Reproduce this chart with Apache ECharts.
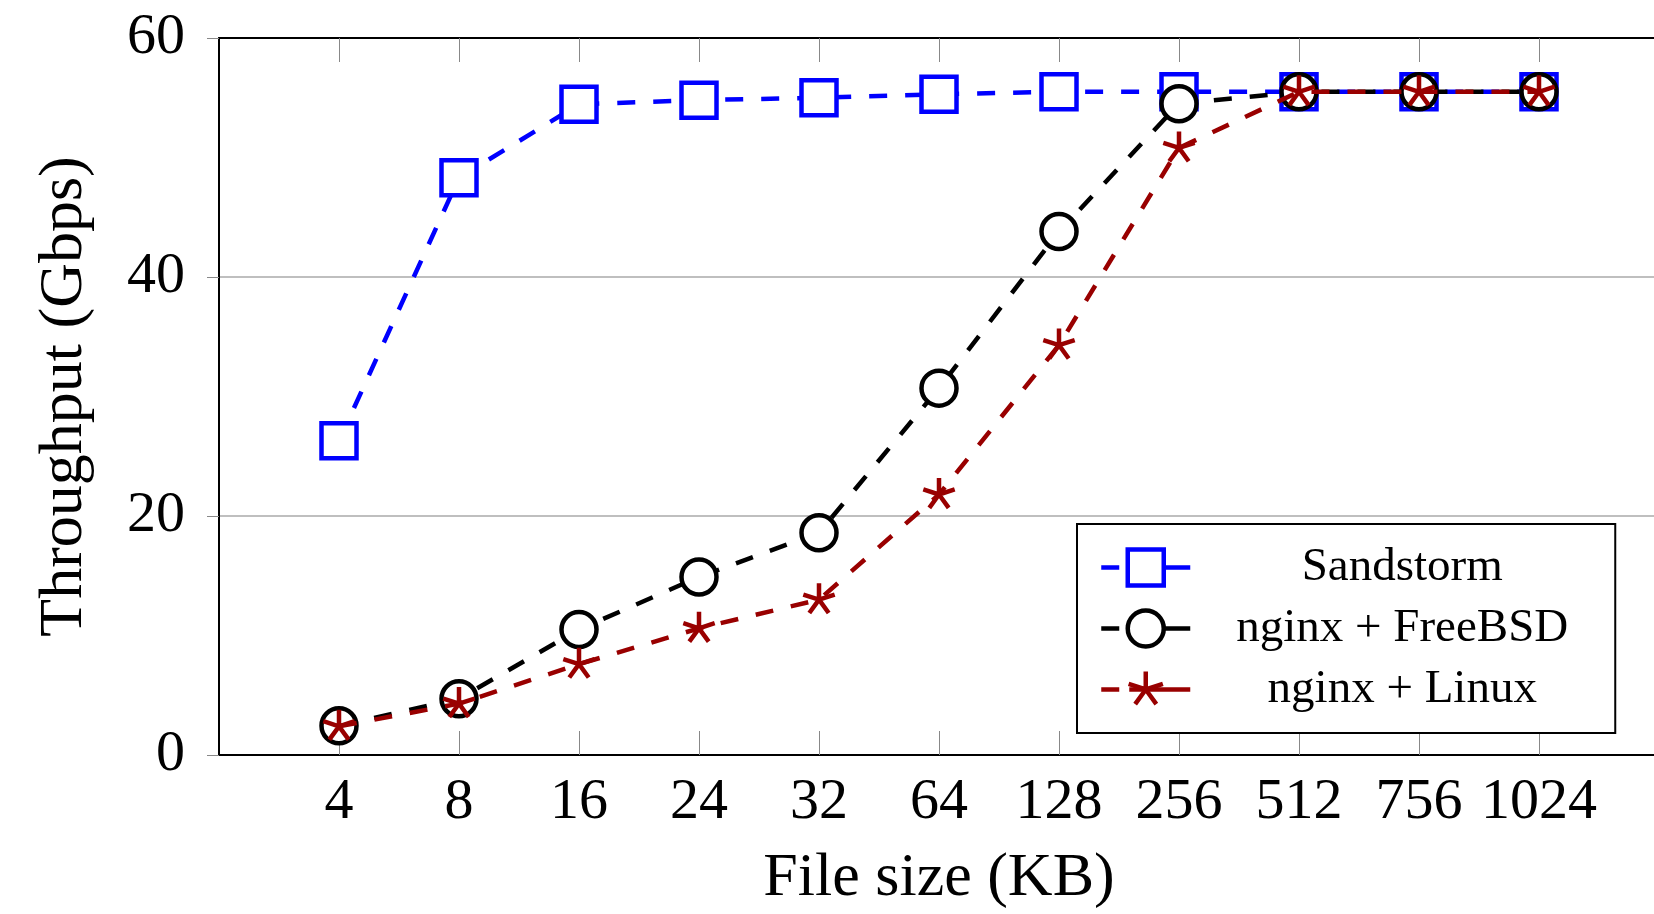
<!DOCTYPE html>
<html>
<head>
<meta charset="utf-8">
<script src="https://cdn.jsdelivr.net/npm/echarts@6/dist/echarts.min.js"></script>
<style>
html,body{margin:0;padding:0;background:#fff;}
#chart{width:1654px;height:914px;}
</style>
</head>
<body>
<div id="chart"></div>
<script>
const categories = ['4', '8', '16', '24', '32', '64', '128', '256', '512', '756', '1024'];
const sandstorm = [26.3, 48.3, 54.45, 54.8, 55.0, 55.3, 55.5, 55.5, 55.5, 55.5, 55.5];
const nginxFreeBSD = [2.45, 4.7, 10.5, 14.9, 18.6, 30.7, 43.8, 54.5, 55.5, 55.5, 55.5];
const nginxLinux = [2.4, 4.3, 7.6, 10.6, 13.0, 21.8, 34.3, 50.8, 55.5, 55.5, 55.5];
const yTicks = [0, 20, 40, 60];

const FONT = '"Liberation Serif", "DejaVu Serif", serif';
const toPairs = arr => arr.map((v, i) => [i, v]);
const catIdx = categories.map((_, i) => i);
const STAR = 'path://M0,0L0,-1M0,0L0.951,-0.309M0,0L0.588,0.809M0,0L-0.588,0.809M0,0L-0.951,-0.309M-1,-1M1,1';
const LW = 4.5;
const DASH = [18, 18];
const LEGEND_DASH = [18, 10, 61];

const chart = echarts.init(document.getElementById('chart'), null, {renderer: 'canvas'});
chart.setOption({
  animation: false,
  backgroundColor: '#ffffff',
  grid: {left: 219, top: 38, width: 1440, height: 717, containLabel: false, outerBoundsMode: 'none'},
  legend: {
    orient: 'vertical',
    left: 1077,
    top: 524,
    padding: [20, 47, 20, 22],
    itemWidth: 89,
    itemHeight: 45,
    itemGap: 14,
    backgroundColor: '#ffffff',
    borderColor: '#000000',
    borderWidth: 2,
    borderRadius: 0,
    selectedMode: false,
    lineStyle: {width: LW, type: LEGEND_DASH},
    itemStyle: {borderWidth: LW},
    formatter: name => '{t|' + name + '}',
    textStyle: {
      fontFamily: FONT,
      fontSize: 47,
      color: '#000',
      rich: {t: {width: 414, align: 'center', fontFamily: FONT, fontSize: 47, color: '#000'}}
    },
    data: ['Sandstorm', 'nginx + FreeBSD', 'nginx + Linux']
  },
  xAxis: [{
    type: 'value',
    min: -1, max: 11, interval: 1,
    position: 'bottom',
    name: 'File size (KB)',
    nameLocation: 'middle',
    nameGap: 93,
    nameTextStyle: {fontFamily: FONT, fontSize: 62, color: '#000'},
    axisLine: {show: true, onZero: false, lineStyle: {color: '#000', width: 2}},
    axisTick: {show: true, inside: true, length: 24, customValues: catIdx, lineStyle: {color: '#888', width: 1}},
    axisLabel: {
      show: true, margin: 19,
      customValues: catIdx,
      fontFamily: FONT, fontSize: 58, color: '#000',
      formatter: v => (v >= 0 && v < categories.length && Number.isInteger(v)) ? categories[v] : ''
    },
    splitLine: {show: false}
  }, {
    type: 'value',
    min: -1, max: 11, interval: 1,
    position: 'top',
    axisLine: {show: true, onZero: false, lineStyle: {color: '#000', width: 2}},
    axisTick: {show: true, inside: true, length: 24, customValues: catIdx, lineStyle: {color: '#888', width: 1}},
    axisLabel: {show: false},
    splitLine: {show: false}
  }],
  yAxis: {
    type: 'value',
    min: yTicks[0], max: yTicks[yTicks.length - 1], interval: 20,
    name: 'Throughput (Gbps)',
    nameLocation: 'middle',
    nameGap: 123,
    nameTextStyle: {fontFamily: FONT, fontSize: 62, color: '#000'},
    axisLine: {show: true, onZero: false, lineStyle: {color: '#000', width: 2}},
    axisTick: {show: true, inside: false, length: 12, lineStyle: {color: '#888', width: 1}},
    axisLabel: {margin: 34, fontFamily: FONT, fontSize: 58, color: '#000'},
    splitLine: {show: true, lineStyle: {color: '#bfbfbf', width: 2}}
  },
  series: [{
    name: 'Sandstorm',
    type: 'line',
    data: toPairs(sandstorm),
    symbol: 'rect',
    symbolSize: 35,
    showAllSymbol: true,
    lineStyle: {color: '#0000ff', width: LW, type: DASH},
    itemStyle: {color: '#ffffff', borderColor: '#0000ff', borderWidth: LW},
    emphasis: {disabled: true},
    z: 2
  }, {
    name: 'nginx + FreeBSD',
    type: 'line',
    data: toPairs(nginxFreeBSD),
    symbol: 'circle',
    symbolSize: 35,
    showAllSymbol: true,
    lineStyle: {color: '#000000', width: LW, type: DASH},
    itemStyle: {color: '#ffffff', borderColor: '#000000', borderWidth: LW},
    emphasis: {disabled: true},
    z: 3
  }, {
    name: 'nginx + Linux',
    type: 'line',
    data: toPairs(nginxLinux),
    symbol: STAR,
    symbolSize: 33,
    symbolKeepAspect: true,
    showAllSymbol: true,
    lineStyle: {color: '#990000', width: LW, type: DASH},
    itemStyle: {color: 'none', borderColor: '#990000', borderWidth: LW},
    emphasis: {disabled: true},
    z: 4
  }]
});
</script>
</body>
</html>
